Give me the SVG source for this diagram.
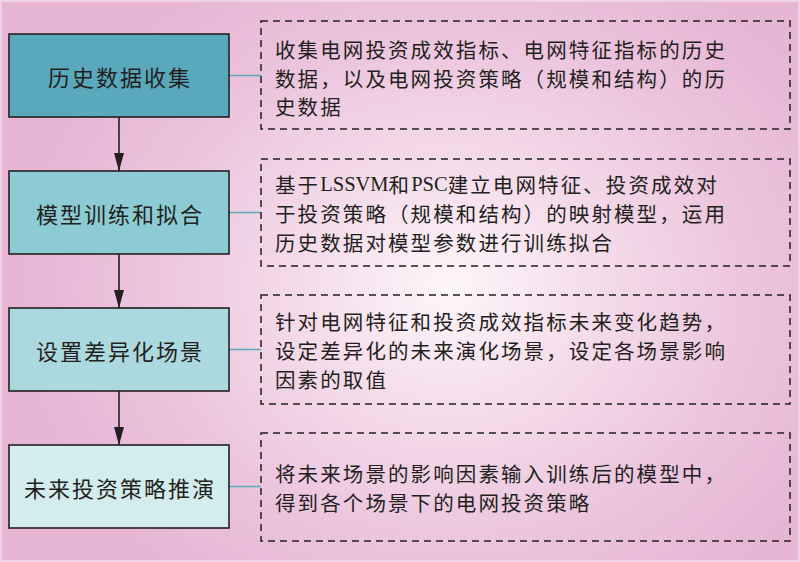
<svg xmlns="http://www.w3.org/2000/svg" width="800" height="562" viewBox="0 0 800 562">
<defs>
<radialGradient id="bg" gradientUnits="userSpaceOnUse" cx="450" cy="290" r="430" gradientTransform="translate(450 290) scale(1 0.85) translate(-450 -290)">
<stop offset="0" stop-color="#fdf6fa"/>
<stop offset="0.3" stop-color="#f5dfec"/>
<stop offset="0.7" stop-color="#ecc4dd"/>
<stop offset="1" stop-color="#e7b6d5"/>
</radialGradient>
<marker id="arr" viewBox="0 0 18 10" refX="18" refY="5" markerWidth="18" markerHeight="10" markerUnits="userSpaceOnUse" orient="auto">
<path d="M0,0 L18,5 L0,10 Z" fill="#231f20"/>
</marker>
<style>
.box{stroke:#231f20;stroke-width:1.6}
.lbl{font-family:"Noto Sans CJK SC","Noto Sans CJK JP",sans-serif;font-size:22px;letter-spacing:2px;fill:#231f20;text-anchor:middle;dominant-baseline:central}
.dash{fill:none;stroke:#231f20;stroke-width:1.5;stroke-dasharray:7 5}
.desc{font-family:"Noto Sans CJK SC","Noto Sans CJK JP",sans-serif;font-size:20.5px;letter-spacing:2.1px;fill:#231f20;dominant-baseline:central}
.lat{font-family:"Liberation Serif","Times New Roman",serif;letter-spacing:0}
.link{stroke:#5aa8bb;stroke-width:1.5;fill:none}
.flow{stroke:#231f20;stroke-width:1.6;fill:none}
</style>
</defs>
<rect x="0" y="0" width="800" height="562" fill="url(#bg)"/>
<rect x="1" y="1" width="798" height="560" fill="none" stroke="#f1d3e6" stroke-width="2"/>

<g id="connectors">
<line class="flow" x1="119" y1="117" x2="119" y2="171" marker-end="url(#arr)"/>
<line class="flow" x1="119" y1="254" x2="119" y2="308" marker-end="url(#arr)"/>
<line class="flow" x1="119" y1="391" x2="119" y2="445" marker-end="url(#arr)"/>
<line class="link" x1="229" y1="75.5" x2="261" y2="75.5"/>
<line class="link" x1="229" y1="212.5" x2="261" y2="212.5"/>
<line class="link" x1="229" y1="349.5" x2="261" y2="349.5"/>
<line class="link" x1="229" y1="486.5" x2="261" y2="486.5"/>
</g>

<g id="node1">
<rect class="box" x="9" y="34" width="220" height="83" fill="#5aa8bb"/>
<text class="lbl" x="120" y="75.5">历史数据收集</text>
</g>
<g id="note1">
<rect class="dash" x="261" y="21" width="529" height="108"/>
<text class="desc" x="275" y="49">收集电网投资成效指标、电网特征指标的历史</text>
<text class="desc" x="275" y="77.5">数据，以及电网投资策略（规模和结构）的历</text>
<text class="desc" x="275" y="106">史数据</text>
</g>

<g id="node2">
<rect class="box" x="9" y="171" width="220" height="83" fill="#8ccbd4"/>
<text class="lbl" x="120" y="212.5">模型训练和拟合</text>
</g>
<g id="note2">
<rect class="dash" x="261" y="159" width="529" height="107"/>
<text class="desc" x="275" y="184">基于<tspan class="lat">LSSVM</tspan>和<tspan class="lat">PSC</tspan>建立电网特征、投资成效对</text>
<text class="desc" x="275" y="213">于投资策略（规模和结构）的映射模型，运用</text>
<text class="desc" x="275" y="242">历史数据对模型参数进行训练拟合</text>
</g>

<g id="node3">
<rect class="box" x="9" y="308" width="220" height="83" fill="#acd9df"/>
<text class="lbl" x="120" y="349.5">设置差异化场景</text>
</g>
<g id="note3">
<rect class="dash" x="261" y="295" width="529" height="109"/>
<text class="desc" x="275" y="321">针对电网特征和投资成效指标未来变化趋势，</text>
<text class="desc" x="275" y="350">设定差异化的未来演化场景，设定各场景影响</text>
<text class="desc" x="275" y="379">因素的取值</text>
</g>

<g id="node4">
<rect class="box" x="9" y="445" width="220" height="83" fill="#d3ecee"/>
<text class="lbl" x="120" y="486.5">未来投资策略推演</text>
</g>
<g id="note4">
<rect class="dash" x="261" y="433" width="529" height="108"/>
<text class="desc" x="275" y="473">将未来场景的影响因素输入训练后的模型中，</text>
<text class="desc" x="275" y="502">得到各个场景下的电网投资策略</text>
</g>
</svg>
